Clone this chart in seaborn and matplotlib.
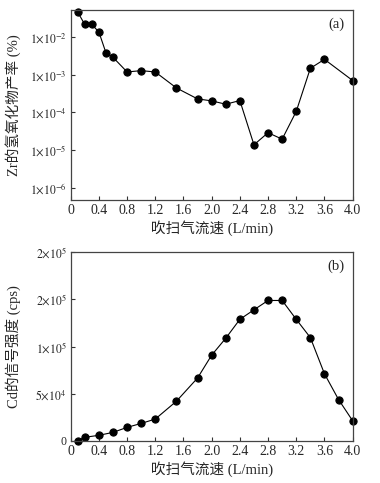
import numpy as np
import pandas as pd
import matplotlib
matplotlib.use("Agg")
import matplotlib.pyplot as plt
import seaborn as sns

# --- DANE --------------------------------------------------------------------

flow_a = [0.1, 0.2, 0.3, 0.4, 0.5, 0.6, 0.8, 1.0, 1.2, 1.5, 1.8, 2.0, 2.2,
          2.4, 2.6, 2.8, 3.0, 3.2, 3.4, 3.6, 4.0]
zr_oxide = [4.7e-2, 2.2e-2, 2.2e-2, 1.39e-2, 3.9e-3, 2.95e-3, 1.2e-3, 1.3e-3,
            1.2e-3, 4.5e-4, 2.3e-4, 2.04e-4, 1.66e-4, 2.08e-4, 1.38e-5,
            2.9e-5, 1.95e-5, 1.07e-4, 1.5e-3, 2.6e-3, 7.1e-4]

flow_b = [0.1, 0.2, 0.4, 0.6, 0.8, 1.0, 1.2, 1.5, 1.8, 2.0, 2.2, 2.4, 2.6,
          2.8, 3.0, 3.2, 3.4, 3.6, 3.8, 4.0]
cd_signal = [500, 3900, 6000, 9100, 14400, 18600, 23200, 42100, 66700, 90900,
             108800, 128800, 138900, 148800, 148800, 128800, 109500, 71200,
             43900, 21400]

x_ticks = [0, 0.4, 0.8, 1.2, 1.6, 2.0, 2.4, 2.8, 3.2, 3.6, 4.0]
x_labels = ["0", "0.4", "0.8", "1.2", "1.6", "2.0", "2.4", "2.8", "3.2", "3.6", "4.0"]

ya_ticks = [1e-6, 1e-5, 1e-4, 1e-3, 1e-2]
ya_labels = [r"$1{\times}10^{-6}$", r"$1{\times}10^{-5}$", r"$1{\times}10^{-4}$",
             r"$1{\times}10^{-3}$", r"$1{\times}10^{-2}$"]

yb_ticks = [0, 5e4, 1e5, 1.5e5, 2e5]
yb_labels = ["0", r"$5{\times}10^{4}$", r"$1{\times}10^{5}$",
             r"$2{\times}10^{5}$", r"$2{\times}10^{5}$"]

XLABEL = "吹扫气流速 (L/min)"
YLABEL_A = "Zr的氢氧化物产率 (%)"
YLABEL_B = "Cd的信号强度 (cps)"

# --- STYL --------------------------------------------------------------------

sns.set_theme(style="ticks")
plt.rcParams["font.family"] = ["Liberation Serif", "Noto Sans CJK SC"]
plt.rcParams["mathtext.fontset"] = "stix"
plt.rcParams["xtick.direction"] = "in"
plt.rcParams["ytick.direction"] = "in"

df_a = pd.DataFrame({"flow": flow_a, "val": zr_oxide})
df_b = pd.DataFrame({"flow": flow_b, "val": cd_signal})

fig = plt.figure(figsize=(3.8, 4.83), dpi=100)
ax_a = fig.add_axes([0.186, 0.586, 0.742, 0.393])
ax_b = fig.add_axes([0.186, 0.087, 0.742, 0.391])

for ax, df in [(ax_a, df_a), (ax_b, df_b)]:
    sns.lineplot(data=df, x="flow", y="val", ax=ax, color="black",
                 linewidth=0.8, marker="o", markersize=5.2,
                 markeredgecolor="black", markerfacecolor="black",
                 clip_on=False)
    ax.set_xlim(0, 4.0)
    ax.set_xticks(x_ticks)
    ax.set_xticklabels(x_labels)
    ax.set_xlabel(XLABEL, fontsize=10.5, labelpad=2)
    ax.tick_params(axis="x", labelsize=10)
    ax.tick_params(axis="y", labelsize=8.5)
    ax.tick_params(axis="both", length=3, width=0.8,
                   color="#333333", pad=3)
    for sp in ax.spines.values():
        sp.set_visible(True)
        sp.set_color("#444444")
        sp.set_linewidth(0.9)

ax_a.set_yscale("log")
ax_a.set_ylim(4.7e-7, 5.3e-2)
ax_a.set_yticks(ya_ticks)
ax_a.set_yticklabels(ya_labels)
ax_a.minorticks_off()
ax_a.set_ylabel(YLABEL_A, fontsize=10.5, labelpad=6)
ax_a.text(0.97, 0.96, "(a)", transform=ax_a.transAxes, ha="right", va="top",
          fontsize=10.5)

ax_b.set_ylim(0, 2e5)
ax_b.set_yticks(yb_ticks)
ax_b.set_yticklabels(yb_labels)
ax_b.set_ylabel(YLABEL_B, fontsize=10.5, labelpad=10)
ax_b.text(0.97, 0.96, "(b)", transform=ax_b.transAxes, ha="right", va="top",
          fontsize=10.5)

fig.savefig("out.png", dpi=100)
plt.close(fig)
